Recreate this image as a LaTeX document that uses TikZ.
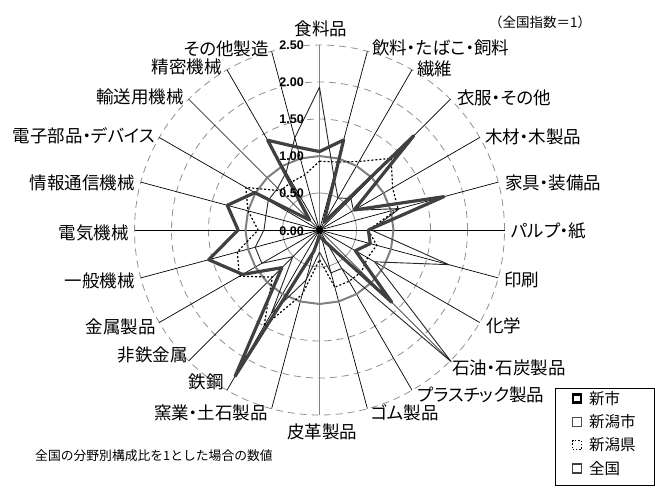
\documentclass[tikz,border=0pt]{standalone}
\usepackage{fontspec}
\setmainfont{Liberation Sans}
\newfontfamily\jp{Noto Sans CJK JP}
\newfontfamily\jpp{Noto Sans CJK JP}[RawFeature=+palt]
\definecolor{dkgray}{HTML}{404040}
\definecolor{midgray}{HTML}{808080}
\definecolor{ltgray}{HTML}{909090}
\begin{document}
\begin{tikzpicture}[x=1pt,y=1pt,
  gridline/.style={draw=ltgray,line width=0.8pt,dash pattern=on 7pt off 5pt},
  halfline/.style={draw=ltgray,line width=0.8pt},
  axisline/.style={draw=black,line width=0.7pt},
  vaxis/.style={draw=midgray,line width=1.3pt},
  sA/.style={draw=dkgray,line width=3.2pt,line join=round},
  sB/.style={draw=black!85,line width=0.9pt,line join=round},
  sC/.style={draw=black,line width=1.2pt,dash pattern=on 2pt off 2pt},
  sD/.style={draw=midgray,line width=2pt},
  lab/.style={font=\jpp\fontsize{17.5}{20}\selectfont,inner sep=0pt},
  num/.style={font=\bfseries\fontsize{12.5}{14}\selectfont,inner sep=0pt,anchor=east},
  legtxt/.style={font=\jp\fontsize{15.5}{17}\selectfont,inner sep=0pt,anchor=west},
  legbox/.style={minimum size=9pt,inner sep=0pt}
]
\useasboundingbox (0,0) rectangle (655,-488);
\coordinate (c) at (319.5,-230);
% grid
\draw[halfline] (c) circle (37);
\foreach \r in {1.5,2,2.5} \draw[gridline] (c) circle ({74*\r});
% axis ends
\foreach \i in {0,...,23} \path (c) ++({90-15*\i}:185) coordinate (a\i);
\foreach \i in {1,...,11,13,14,...,23} \draw[axisline] (c) -- (a\i);
\draw[vaxis] (a0) -- (a12);
% series
\foreach \v [count=\i from 0] in {1.06,1.26,0.12,1.80,0.54,1.74,0.66,0.71,0.56,1.38,0.22,0.12,0.08,0.30,2.28,0.72,1.20,1.55,1.10,1.29,1.01,0.19,1.40,1.16}
  \path (c) ++({90-15*\i}:{74*\v}) coordinate (A\i);
\foreach \v [count=\i from 0] in {1.93,0.75,0.5,0.6,0.53,1.12,0.7,1.81,0.86,2.52,0.6,0.6,0.3,0.7,1.3,0.51,0.9,0.9,0.75,0.75,0.8,0.8,0.9,1.29}
  \path (c) ++({90-15*\i}:{74*\v}) coordinate (B\i);
\foreach \v [count=\i from 0] in {0.93,0.95,1.07,1.37,1.14,1.10,0.66,0.8,0.75,0.8,0.8,0.8,0.4,0.9,1.5,0.9,1.25,1.15,0.83,1.0,1.15,0.75,0.75,0.77}
  \path (c) ++({90-15*\i}:{74*\v}) coordinate (C\i);
\foreach \i in {0,...,23} \path (c) ++({90-15*\i}:74) coordinate (D\i);
\draw[sD] (D0) \foreach \i in {1,...,23}{ -- (D\i)} -- cycle;
\draw[sC] (C0) \foreach \i in {1,...,23}{ -- (C\i)} -- cycle;
\draw[sB] (B0) \foreach \i in {1,...,23}{ -- (B\i)} -- cycle;
\draw[sA] (A0) \foreach \i in {1,...,23}{ -- (A\i)} -- cycle;
\fill[black] (c) circle (3.5);
% value labels
\node[num] (n0) at (304,-231) {0.00};
\node[num] (n1) at (304,-193) {0.50};
\node[num] (n2) at (304,-156) {1.00};
\node[num] (n3) at (304,-119) {1.50};
\node[num] (n4) at (304,-82) {2.00};
\node[num] (n5) at (304,-45) {2.50};
% category labels
\node[lab,anchor=center] (L0) at (321,-28.5) {食料品};
\node[lab,anchor=west] (L1) at (372,-48) {飲料・たばこ・飼料};
\node[lab,anchor=west] (L2) at (417,-68.5) {繊維};
\node[lab,anchor=west] (L3) at (457,-97.5) {衣服・その他};
\node[lab,anchor=west] (L4) at (485,-137) {木材・木製品};
\node[lab,anchor=west] (L5) at (505,-183) {家具・装備品};
\node[lab,anchor=west] (L6) at (511,-231) {パルプ・紙};
\node[lab,anchor=west] (L7) at (504,-280) {印刷};
\node[lab,anchor=west] (L8) at (486,-326) {化学};
\node[lab,anchor=west] (L9) at (452,-368) {石油・石炭製品};
\node[lab,anchor=west] (L10) at (417,-395) {プラスチック製品};
\node[lab,anchor=west] (L11) at (371,-413) {ゴム製品};
\node[lab,anchor=center] (L12) at (322,-432) {皮革製品};
\node[lab,anchor=east] (L13) at (268,-413) {窯業・土石製品};
\node[lab,anchor=east] (L14) at (224,-382) {鉄鋼};
\node[lab,anchor=east] (L15) at (188,-355) {非鉄金属};
\node[lab,anchor=east] (L16) at (156,-327) {金属製品};
\node[lab,anchor=east] (L17) at (135,-281) {一般機械};
\node[lab,anchor=east] (L18) at (129,-232.5) {電気機械};
\node[lab,anchor=east] (L19) at (135,-183) {情報通信機械};
\node[lab,anchor=east] (L20) at (155,-136) {電子部品・デバイス};
\node[lab,anchor=east] (L21) at (184,-97) {輸送用機械};
\node[lab,anchor=east] (L22) at (222,-67) {精密機械};
\node[lab,anchor=east] (L23) at (269,-49) {その他製造};
% notes
\node[font=\jp\fontsize{13.5}{15}\selectfont,inner sep=0pt,anchor=center] (unit) at (540,-22) {（全国指数＝1）};
\node[font=\jp\fontsize{12.8}{14}\selectfont,inner sep=0pt,anchor=west] (note) at (35,-456) {全国の分野別構成比を1とした場合の数値};
% legend
\draw[black,line width=0.8pt] (555,-388) rectangle (654,-485);
\node[legbox,draw=black,line width=2.2pt,minimum size=8pt] (k1) at (577,-398.5) {};
\node[legbox,draw=midgray!60!black,line width=0.7pt] (k2) at (577,-422) {};
\node[legbox,draw=black,line width=1pt,dash pattern=on 1.5pt off 1.8pt] (k3) at (577,-445) {};
\node[legbox,draw=dkgray,line width=1.4pt] (k4) at (577,-468.5) {};
\node[legtxt] (t1) at (589,-398.5) {新市};
\node[legtxt] (t2) at (589,-422) {新潟市};
\node[legtxt] (t3) at (589,-445) {新潟県};
\node[legtxt] (t4) at (589,-468.5) {全国};
\end{tikzpicture}
\end{document}
